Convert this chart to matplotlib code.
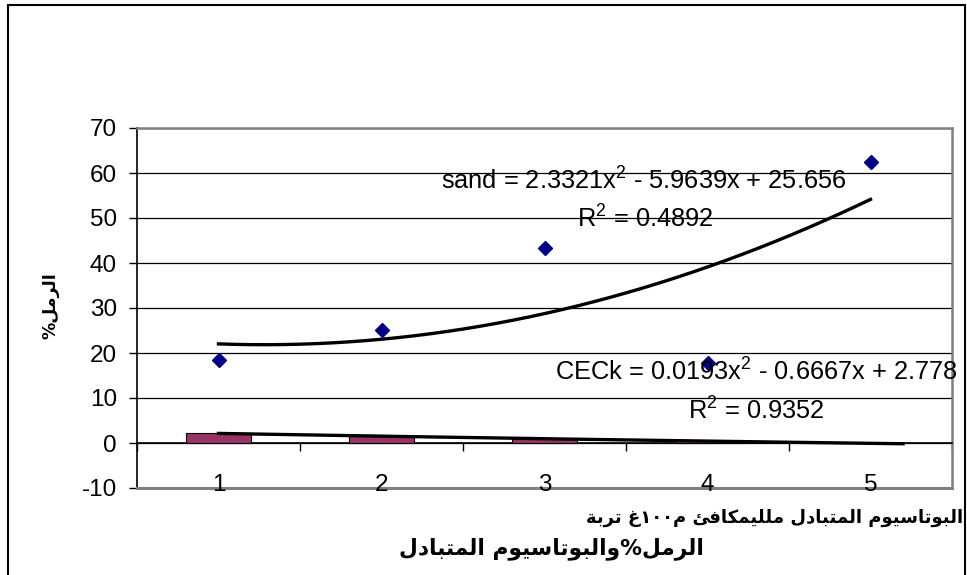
import matplotlib
matplotlib.use("Agg")
import matplotlib.pyplot as plt
from matplotlib.patches import Rectangle
import numpy as np

# samples on the category axis
categories = [1, 2, 3, 4, 5]
# sand %
sand = [18.55, 25.17, 43.25, 17.67, 62.45]
# exchangeable potassium (meq/100 g soil)
cec_k = [2.15, 1.45, 0.95, 0.45, 0.10]

# polynomial (order 2) trendlines: a, b, c and R^2
sand_fit = [2.3321, -5.9639, 25.656]
sand_r2 = 0.4892
cec_fit = [0.0193, -0.6667, 2.778]
cec_r2 = 0.9352

y_ticks = [-10, 0, 10, 20, 30, 40, 50, 60, 70]

ylabel_ar = "الرمل%"
xlabel_ar = "البوتاسيوم المتبادل ملليمكافئ م١٠٠غ تربة"
title_ar = "الرمل%والبوتاسيوم المتبادل"

# arabic contextual forms: isolated, final, initial, medial
FORMS = {
    'ا': ('\uFE8D', '\uFE8E', None, None),
    'ب': ('\uFE8F', '\uFE90', '\uFE91', '\uFE92'),
    'ة': ('\uFE93', '\uFE94', None, None),
    'ت': ('\uFE95', '\uFE96', '\uFE97', '\uFE98'),
    'د': ('\uFEA9', '\uFEAA', None, None),
    'ر': ('\uFEAD', '\uFEAE', None, None),
    'س': ('\uFEB1', '\uFEB2', '\uFEB3', '\uFEB4'),
    'غ': ('\uFECD', '\uFECE', '\uFECF', '\uFED0'),
    'ف': ('\uFED1', '\uFED2', '\uFED3', '\uFED4'),
    'ك': ('\uFED9', '\uFEDA', '\uFEDB', '\uFEDC'),
    'ل': ('\uFEDD', '\uFEDE', '\uFEDF', '\uFEE0'),
    'م': ('\uFEE1', '\uFEE2', '\uFEE3', '\uFEE4'),
    'و': ('\uFEED', '\uFEEE', None, None),
    'ي': ('\uFEF1', '\uFEF2', '\uFEF3', '\uFEF4'),
    'ئ': ('\uFE89', '\uFE8A', '\uFE8B', '\uFE8C'),
}


def shape_rtl(text):
    '''
    Join arabic letters and put the string in display order
    (matplotlib draws glyphs left to right as given)
    '''
    chars = list(text)
    out = []
    for i, ch in enumerate(chars):
        forms = FORMS.get(ch)
        if forms is None:
            out.append(ch)
            continue
        prev = chars[i - 1] if i > 0 else None
        nxt = chars[i + 1] if i + 1 < len(chars) else None
        join_prev = prev in FORMS and FORMS[prev][2] is not None
        join_next = forms[2] is not None and nxt in FORMS
        if join_prev and join_next:
            out.append(forms[3])
        elif join_prev:
            out.append(forms[1])
        elif join_next:
            out.append(forms[2])
        else:
            out.append(forms[0])
    # reverse, but keep runs of digits left to right
    runs = []
    for g in out:
        if runs and g.isdigit() and runs[-1][0]:
            runs[-1][1].append(g)
        else:
            runs.append([g.isdigit(), [g]])
    return "".join("".join(r[1]) for r in reversed(runs))


def eq_text(name, coef):
    a, b, c = coef
    return f"{name} = {a:g}x$^2$ - {abs(b):g}x + {c:g}"


if __name__ == '__main__':
    plt.rcParams['font.family'] = ['Liberation Sans', 'DejaVu Sans']
    plt.rcParams['mathtext.fontset'] = 'custom'
    plt.rcParams['mathtext.rm'] = 'Liberation Sans'
    plt.rcParams['mathtext.it'] = 'Liberation Sans'
    plt.rcParams['axes.unicode_minus'] = False

    W, H = 967, 575
    fig = plt.figure(figsize=(W / 100, H / 100), dpi=100)
    fig.patch.set_facecolor('white')

    # chart area border
    fig.add_artist(Rectangle((8 / W, -0.05), 957 / W, 1 - 5 / H + 0.05,
                             transform=fig.transFigure, fill=False,
                             ec='black', lw=1.5))

    ax = fig.add_axes([137 / W, 1 - 488 / H, 815 / W, 360 / H])
    ax.set_xlim(0.5, 5.5)
    ax.set_ylim(-10, 70)
    ax.set_yticks(y_ticks)
    ax.yaxis.grid(True, color='black', lw=0.9)
    ax.set_axisbelow(True)

    ax.spines['left'].set(color='black', lw=1.2)
    for s in ('top', 'right'):
        ax.spines[s].set(color='#808080', lw=1.8)
    ax.spines['bottom'].set_position(('data', 0))
    ax.spines['bottom'].set(color='black', lw=1.2)
    ax.axhline(-10, color='#808080', lw=2.2, clip_on=False, zorder=2.6)

    ax.set_xticks(np.arange(0.5, 6, 1.0))
    ax.tick_params(axis='x', direction='out', length=6, width=1,
                   labelbottom=False)
    ax.tick_params(axis='y', direction='out', length=6, width=1,
                   labelsize=17.5, pad=8.5)
    for c in categories:
        ax.annotate(str(c), (c, -10), xytext=(0, -2),
                    textcoords='offset points', ha='center', va='baseline',
                    fontsize=17.5)

    ax.bar(categories, cec_k, width=0.4, color='#993366',
           edgecolor='black', lw=0.8, zorder=3)

    t = np.linspace(1, 5, 200)
    ax.plot(t, np.polyval(sand_fit, t), color='black', lw=2.4, zorder=4)
    t2 = np.linspace(1, 5.2, 200)
    ax.plot(t2, np.polyval(cec_fit, t2), color='black', lw=2.4, zorder=4)

    ax.plot(categories, sand, ls='none', marker='D', ms=7,
            color='#000080', zorder=5)

    ax.text(3.61, 56.35, eq_text('sand', sand_fit), ha='center',
            va='baseline', fontsize=18.3, zorder=6)
    ax.text(3.62, 47.9, f"R$^2$ = {sand_r2}", ha='center',
            va='baseline', fontsize=18.3, zorder=6)
    ax.text(4.30, 13.78, eq_text('CECk', cec_fit), ha='center',
            va='baseline', fontsize=18.3, zorder=6, clip_on=False)
    ax.text(4.30, 5.27, f"R$^2$ = {cec_r2}", ha='center',
            va='baseline', fontsize=18.3, zorder=6)

    fig.text(50 / W, 1 - 306 / H, shape_rtl(ylabel_ar), rotation=90,
             ha='center', va='center', fontsize=12.5, fontweight='bold',
             family=['DejaVu Sans'])
    fig.text(963 / W, 1 - 518 / H, shape_rtl(xlabel_ar), ha='right',
             va='center', fontsize=13, fontweight='bold',
             family=['DejaVu Sans'])
    fig.text(551 / W, 1 - 549 / H, shape_rtl(title_ar), ha='center',
             va='center', fontsize=15.7, fontweight='bold',
             family=['DejaVu Sans'])

    fig.savefig('out.png', dpi=100)
